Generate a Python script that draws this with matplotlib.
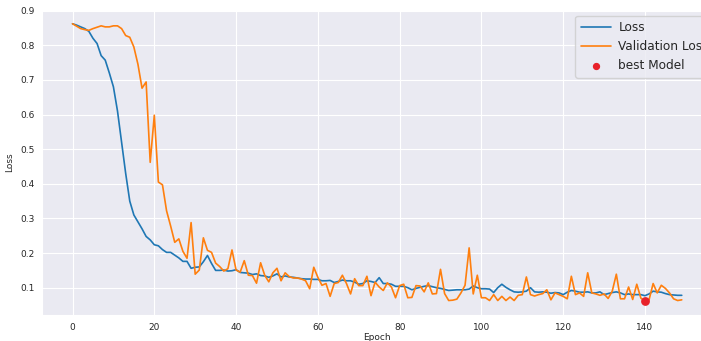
import matplotlib
matplotlib.use("Agg")
import matplotlib.pyplot as plt
import numpy as np
import seaborn as sns

# per-epoch values
loss = [
    0.862, 0.858, 0.853, 0.848, 0.840, 0.820, 0.805, 0.770, 0.757, 0.720,
    0.680, 0.610, 0.520, 0.430, 0.350, 0.310, 0.290, 0.270, 0.248, 0.238,
    0.224, 0.221, 0.210, 0.202, 0.202, 0.194, 0.186, 0.176, 0.176, 0.156,
    0.159, 0.160, 0.175, 0.193, 0.170, 0.150, 0.150, 0.151, 0.148, 0.149,
    0.152, 0.144, 0.143, 0.142, 0.138, 0.140, 0.135, 0.134, 0.130, 0.134,
    0.140, 0.131, 0.134, 0.131, 0.130, 0.128, 0.126, 0.125, 0.125, 0.124,
    0.124, 0.120, 0.120, 0.121, 0.115, 0.118, 0.122, 0.120, 0.120, 0.116,
    0.110, 0.112, 0.120, 0.118, 0.115, 0.129, 0.112, 0.112, 0.110, 0.104,
    0.104, 0.104, 0.100, 0.094, 0.098, 0.101, 0.104, 0.106, 0.103, 0.100,
    0.098, 0.095, 0.092, 0.093, 0.094, 0.094, 0.094, 0.096, 0.105, 0.100,
    0.097, 0.097, 0.096, 0.086, 0.100, 0.110, 0.101, 0.094, 0.088, 0.087,
    0.088, 0.090, 0.100, 0.088, 0.087, 0.088, 0.087, 0.084, 0.086, 0.085,
    0.080, 0.087, 0.092, 0.090, 0.087, 0.087, 0.088, 0.085, 0.085, 0.088,
    0.080, 0.083, 0.086, 0.088, 0.085, 0.080, 0.082, 0.080, 0.080, 0.080,
    0.077, 0.082, 0.090, 0.088, 0.087, 0.083, 0.080, 0.079, 0.078, 0.078,
]
val_loss = [
    0.862, 0.855, 0.848, 0.845, 0.843, 0.848, 0.852, 0.856, 0.853, 0.853,
    0.856, 0.856, 0.848, 0.828, 0.823, 0.795, 0.745, 0.676, 0.694, 0.462,
    0.598, 0.405, 0.397, 0.322, 0.278, 0.231, 0.241, 0.205, 0.185, 0.288,
    0.139, 0.151, 0.244, 0.208, 0.202, 0.171, 0.161, 0.148, 0.155, 0.209,
    0.151, 0.145, 0.178, 0.136, 0.135, 0.113, 0.172, 0.136, 0.117, 0.143,
    0.156, 0.120, 0.143, 0.132, 0.128, 0.128, 0.125, 0.120, 0.097, 0.159,
    0.130, 0.107, 0.112, 0.075, 0.112, 0.115, 0.136, 0.112, 0.082, 0.126,
    0.106, 0.106, 0.133, 0.077, 0.116, 0.102, 0.092, 0.114, 0.102, 0.071,
    0.106, 0.110, 0.071, 0.072, 0.106, 0.105, 0.088, 0.114, 0.082, 0.083,
    0.153, 0.083, 0.063, 0.064, 0.067, 0.085, 0.107, 0.215, 0.082, 0.136,
    0.071, 0.071, 0.063, 0.080, 0.063, 0.075, 0.063, 0.073, 0.063, 0.078,
    0.080, 0.131, 0.080, 0.076, 0.080, 0.083, 0.094, 0.065, 0.085, 0.080,
    0.075, 0.068, 0.133, 0.080, 0.085, 0.075, 0.143, 0.085, 0.082, 0.078,
    0.082, 0.069, 0.090, 0.139, 0.068, 0.068, 0.102, 0.066, 0.110, 0.070,
    0.061, 0.065, 0.112, 0.085, 0.107, 0.098, 0.085, 0.068, 0.063, 0.065,
]
epochs = np.arange(len(loss))
best_epoch = 140
best_val = val_loss[best_epoch]

sns.set_style("darkgrid")

fig = plt.figure(figsize=(7.01, 3.41), dpi=100)
# axes run past the right edge, as in the (cropped) reference
ax = fig.add_axes([0.060, 0.076, 0.956, 0.895])

ax.plot(epochs, loss, color="#1f77b4", linewidth=1.2, label="Loss")
ax.plot(epochs, val_loss, color="#ff7f0e", linewidth=1.2, label="Validation Loss")
ax.scatter([best_epoch], [best_val], color="#e8212a", s=28, zorder=5,
           label="best Model")

ax.set_xlabel("Epoch", fontsize=6.5, labelpad=1)
ax.set_ylabel("Loss", fontsize=6.5, labelpad=4)
ax.tick_params(labelsize=6.5, pad=2)
ax.set_xticks(np.arange(0, 141, 20))
ax.set_yticks(np.arange(0.1, 0.91, 0.1))
ax.legend(loc="upper right", bbox_to_anchor=(1.012, 1.0), fontsize=8.7,
          frameon=True, labelspacing=0.5, handletextpad=0.6,
          handlelength=2.5, borderpad=0.45, markerscale=0.8)

fig.savefig("out.png", dpi=100)
